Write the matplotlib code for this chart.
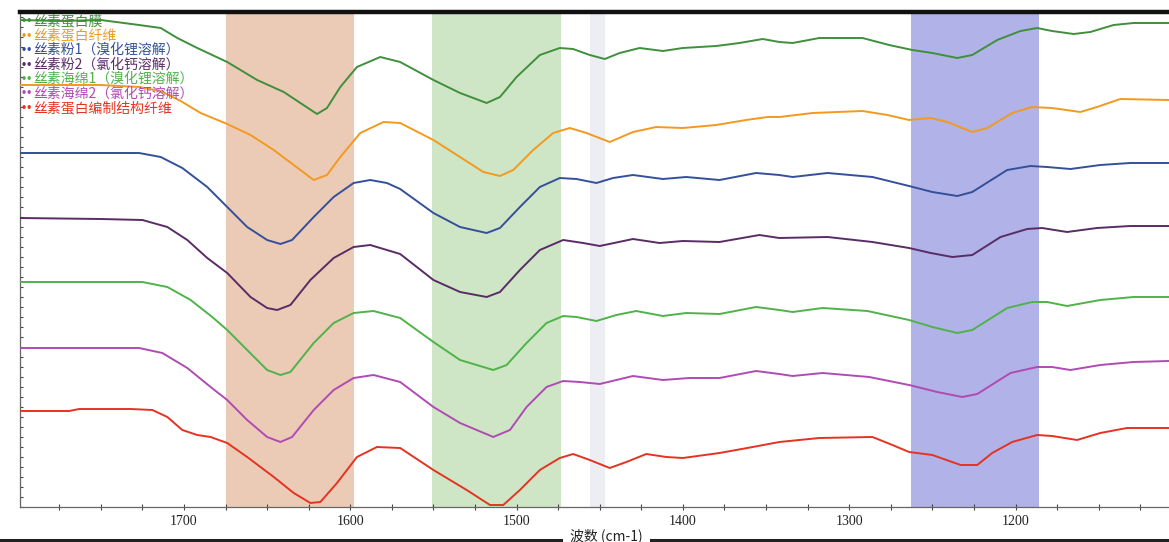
import matplotlib
matplotlib.use("Agg")
import matplotlib.pyplot as plt
from matplotlib.lines import Line2D

# ---------------- data ----------------
labels = [
    "丝素蛋白膜",
    "丝素蛋白纤维",
    "丝素粉1（溴化锂溶解）",
    "丝素粉2（氯化钙溶解）",
    "丝素海绵1（溴化锂溶解）",
    "丝素海绵2（氯化钙溶解）",
    "丝素蛋白编制结构纤维",
]
colors = ["#3f8f3c", "#f29a1f", "#34509a", "#5a2c66", "#4fb34a", "#b04bb4", "#e53322"]

film_wn = [1799, 1775, 1750, 1727, 1714, 1704, 1692, 1674, 1656, 1640, 1630, 1620, 1614, 1606, 1596, 1582,
           1570, 1550, 1534, 1518, 1510, 1500, 1486, 1474, 1466, 1456, 1447, 1438, 1426, 1412, 1400, 1380,
           1366, 1352, 1342, 1334, 1318, 1292, 1276, 1262, 1250, 1235, 1226, 1211, 1197, 1187, 1178, 1165,
           1155, 1141, 1129, 1108]
film_val = [487, 486, 487, 482, 479, 469, 459, 445, 427, 415, 404, 393, 399, 420, 440, 450,
            445, 427, 414, 404, 410, 430, 452, 459, 458, 452, 448, 454, 459, 456, 459, 461,
            464, 468, 465, 464, 469, 469, 462, 457, 454, 449, 452, 467, 476, 479, 476, 473,
            475, 482, 484, 484]

fiber_wn = [1799, 1750, 1727, 1714, 1702, 1690, 1674, 1660, 1646, 1634, 1622, 1614, 1606, 1594, 1580, 1570,
            1550, 1534, 1520, 1510, 1502, 1490, 1478, 1468, 1458, 1444, 1430, 1416, 1400, 1380, 1362, 1349,
            1342, 1322, 1292, 1277, 1264, 1251, 1241, 1226, 1217, 1202, 1190, 1178, 1161, 1151, 1137, 1108]
fiber_val = [422, 422, 420, 416, 406, 394, 383, 372, 357, 342, 327, 332, 350, 374, 385, 384,
             367, 350, 335, 331, 337, 357, 374, 379, 374, 365, 375, 380, 379, 382, 387, 390,
             390, 394, 396, 392, 387, 389, 385, 375, 379, 394, 400, 399, 395, 400, 408, 407]

powder1_wn = [1799, 1750, 1727, 1714, 1701, 1686, 1674, 1662, 1650, 1642, 1635, 1622, 1610, 1598, 1588, 1578,
              1570, 1550, 1534, 1518, 1510, 1498, 1486, 1474, 1464, 1452, 1442, 1430, 1412, 1398, 1378, 1356,
              1342, 1334, 1313, 1286, 1264, 1250, 1235, 1226, 1205, 1191, 1181, 1167, 1149, 1131, 1108]
powder1_val = [354, 354, 354, 350, 339, 320, 300, 280, 267, 263, 267, 290, 310, 324, 327, 324,
               318, 294, 280, 274, 279, 300, 320, 329, 328, 324, 329, 332, 328, 330, 327, 334,
               332, 330, 334, 330, 321, 315, 311, 315, 337, 341, 340, 338, 342, 344, 344]

powder2_wn = [1799, 1750, 1725, 1710, 1698, 1686, 1674, 1660, 1650, 1644, 1636, 1624, 1610, 1598, 1588, 1570,
              1550, 1534, 1518, 1510, 1498, 1486, 1472, 1460, 1450, 1430, 1414, 1400, 1378, 1354, 1342, 1313,
              1286, 1264, 1251, 1238, 1226, 1209, 1193, 1184, 1169, 1151, 1131, 1108]
powder2_val = [289, 288, 287, 280, 267, 249, 234, 210, 199, 197, 202, 227, 249, 260, 262, 253,
               227, 215, 210, 215, 237, 257, 267, 264, 261, 268, 264, 266, 265, 272, 269, 270,
               265, 259, 254, 250, 252, 270, 278, 279, 275, 279, 281, 281]

sponge1_wn = [1799, 1750, 1725, 1710, 1696, 1683, 1674, 1662, 1650, 1642, 1636, 1622, 1610, 1598, 1586, 1570,
              1550, 1534, 1514, 1506, 1494, 1482, 1472, 1464, 1452, 1440, 1428, 1412, 1398, 1378, 1356, 1342,
              1334, 1316, 1289, 1264, 1250, 1235, 1226, 1205, 1190, 1181, 1169, 1149, 1129, 1108]
sponge1_val = [225, 225, 225, 220, 207, 190, 177, 157, 137, 132, 135, 164, 184, 194, 196, 189,
               165, 147, 137, 142, 164, 184, 191, 190, 186, 192, 196, 191, 194, 193, 200, 197,
               195, 199, 196, 187, 180, 174, 177, 199, 205, 205, 201, 207, 210, 210]

sponge2_wn = [1799, 1750, 1727, 1713, 1698, 1684, 1674, 1662, 1650, 1642, 1635, 1622, 1610, 1598, 1586, 1570,
              1550, 1534, 1514, 1504, 1494, 1482, 1472, 1462, 1450, 1430, 1412, 1396, 1378, 1356, 1342, 1334,
              1316, 1288, 1264, 1247, 1232, 1223, 1203, 1187, 1178, 1167, 1149, 1129, 1108]
sponge2_val = [159, 159, 159, 154, 139, 120, 107, 87, 70, 65, 70, 97, 117, 129, 132, 125,
               100, 84, 70, 77, 100, 120, 126, 125, 123, 131, 127, 129, 129, 136, 133, 131,
               134, 130, 122, 115, 110, 113, 134, 140, 140, 137, 142, 145, 146]

woven_wn = [1799, 1769, 1763, 1732, 1719, 1710, 1701, 1692, 1684, 1674, 1662, 1646, 1634, 1624, 1618, 1608,
            1596, 1584, 1570, 1550, 1530, 1516, 1508, 1498, 1486, 1474, 1466, 1456, 1444, 1434, 1422, 1410,
            1400, 1378, 1358, 1342, 1318, 1286, 1274, 1264, 1250, 1233, 1223, 1214, 1202, 1187, 1178, 1163,
            1149, 1133, 1108]
woven_val = [96, 96, 98, 98, 97, 90, 77, 72, 70, 64, 50, 30, 14, 4, 5, 24,
             50, 60, 59, 37, 17, 2, 2, 17, 37, 49, 53, 47, 39, 45, 53, 50,
             49, 54, 60, 65, 69, 70, 62, 55, 52, 42, 42, 54, 65, 72, 71, 67,
             74, 79, 79]

series_wn = [film_wn, fiber_wn, powder1_wn, powder2_wn, sponge1_wn, sponge2_wn, woven_wn]
series_val = [film_val, fiber_val, powder1_val, powder2_val, sponge1_val, sponge2_val, woven_val]

# highlighted bands (cm-1)
bands = [(1675, 1598), (1551, 1473), (1263, 1186)]
band_colors = ["#eccbb6", "#cfe6c6", "#b0b2e8"]
xticks_major = [1700, 1600, 1500, 1400, 1300, 1200]

# ---------------- figure ----------------
W, H = 1169, 542
fig = plt.figure(figsize=(W / 100, H / 100), dpi=100)
fig.patch.set_facecolor("white")
ax = fig.add_axes([20 / W, (H - 507) / H, (W - 20) / W, 495 / H])

for (a, b), c in zip(bands, band_colors):
    ax.axvspan(a, b, color=c, lw=0, zorder=0)
ax.axvspan(1456, 1447, color="#eceef3", lw=0, zorder=0)

for wn, v, c in zip(series_wn, series_val, colors):
    ax.plot(wn, v, color=c, lw=1.4, solid_joinstyle="round", zorder=3)

ax.set_xlim(1798.6, 1107.7)
ax.set_ylim(0, 495)

ax.set_xticks(xticks_major)
ax.set_xticklabels([str(t) for t in xticks_major], family="Liberation Serif", fontsize=10, color="#222")
ax.set_xticks(list(range(1775, 1100, -25)), minor=True)
ax.tick_params(axis="x", which="both", direction="inout", length=4, width=0.8, color="#444", pad=4)
ax.set_yticks(list(range(0, 496, 10)))
ax.set_yticklabels([])
ax.tick_params(axis="y", which="both", direction="in", length=2.5, width=0.8, color="#444")

ax.spines["right"].set_visible(False)
ax.spines["top"].set_linewidth(3.2)
ax.spines["top"].set_color("#111")
ax.spines["left"].set_color("#666")
ax.spines["left"].set_linewidth(0.9)
ax.spines["bottom"].set_color("#666")
ax.spines["bottom"].set_linewidth(0.9)

# legend as coloured text rows
cjk = ["Noto Sans CJK SC", "DejaVu Sans"]
for i, (lab, c) in enumerate(zip(labels, colors)):
    ypix = 21 + i * 14.5
    fig.text(21 / W, 1 - ypix / H, "••", color=c, fontsize=7, va="center", ha="left",
             family="DejaVu Sans", fontweight="bold")
    fig.text(33 / W, 1 - ypix / H, lab, color=c, fontsize=10, va="center", ha="left", family=cjk)

# x-axis title sitting on a rule
fig.text(606 / W, 1 - 536 / H, "波数 (cm-1)", fontsize=10, ha="center", va="center",
         family=cjk, color="#222")
fig.add_artist(Line2D([0, 561 / W], [1 - 540 / H, 1 - 540 / H], color="#222", lw=2.2))
fig.add_artist(Line2D([651 / W, 1], [1 - 540 / H, 1 - 540 / H], color="#222", lw=2.2))

fig.savefig("out.png", dpi=100)
